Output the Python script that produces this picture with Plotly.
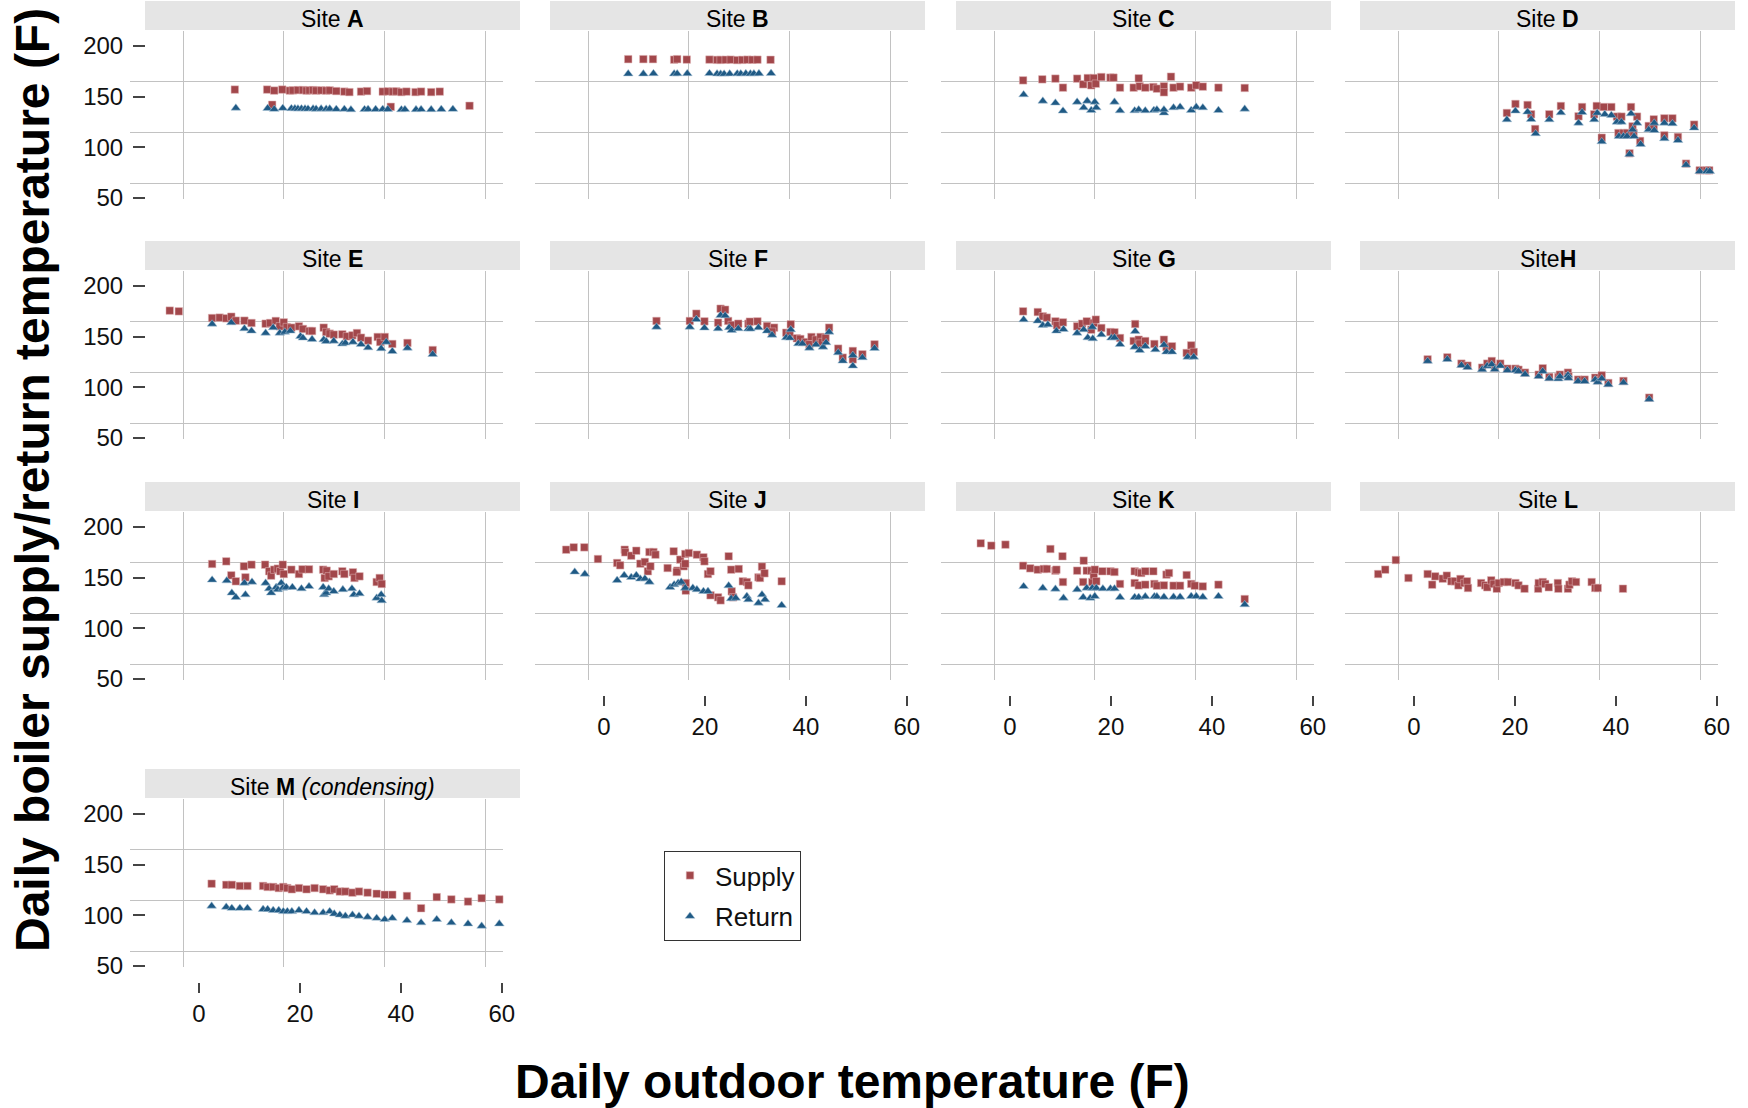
import plotly.graph_objects as go

# ---------------- data ----------------
site_letters = ["A", "B", "C", "D", "E", "F", "G", "H", "I", "J", "K", "L", "M"]
x_tick_vals = [0, 20, 40, 60]
x_tick_text = ["0", "20", "40", "60"]
y_tick_vals = [50, 100, 150, 200]
y_tick_text = ["50", "100", "150", "200"]
series_names = ["Supply", "Return"]

a_supply_x = [7.1, 13.5, 14.9, 16.5, 18.0, 18.6, 19.6, 20.6, 21.3, 21.9, 22.6, 23.2, 24.2, 25.2, 25.9, 27.2, 28.8, 29.8, 32.1, 33.3, 36.4, 37.4, 38.4, 39.1, 40.1, 41.1, 42.9, 44.0, 46.0, 47.7, 14.5, 38.0, 53.6]
a_supply_y = [157.0, 157.0, 156.0, 157.0, 156.0, 156.2, 156.5, 156.5, 156.0, 156.2, 156.5, 156.0, 156.2, 156.0, 156.2, 155.5, 155.0, 154.5, 155.0, 155.5, 155.0, 155.2, 155.0, 155.2, 154.5, 155.0, 154.5, 155.0, 154.5, 155.0, 142.0, 140.0, 141.0]
a_return_x = [7.3, 13.6, 14.9, 16.6, 18.3, 19.0, 19.6, 20.3, 21.0, 21.6, 22.6, 23.2, 24.2, 25.2, 25.9, 27.2, 28.8, 30.1, 32.8, 33.5, 35.0, 36.4, 37.4, 40.1, 40.8, 43.0, 44.0, 46.0, 48.0, 50.3]
a_return_y = [138.8, 138.5, 137.6, 138.6, 138.3, 138.2, 138.0, 138.1, 138.0, 137.9, 138.1, 137.8, 138.0, 137.8, 138.0, 137.6, 137.7, 137.2, 137.4, 137.6, 137.5, 137.6, 137.5, 137.2, 137.4, 137.3, 137.4, 137.3, 137.5, 137.6]

b_supply_x = [4.8, 7.8, 9.7, 13.9, 14.5, 16.4, 20.9, 22.4, 23.1, 24.1, 25.1, 26.4, 27.4, 28.4, 29.4, 30.4, 33.0]
b_supply_y = [187.0, 187.0, 187.0, 186.5, 187.0, 186.6, 186.6, 186.3, 186.3, 186.4, 186.5, 186.1, 186.3, 186.5, 186.4, 186.5, 186.4]
b_return_x = [4.8, 7.8, 9.8, 13.9, 14.5, 16.5, 20.9, 22.4, 23.1, 23.8, 24.9, 26.4, 27.1, 28.1, 29.0, 29.7, 30.7, 33.1]
b_return_y = [172.6, 172.5, 172.8, 172.6, 172.7, 172.8, 172.9, 172.6, 172.4, 172.4, 172.6, 172.7, 172.6, 172.8, 172.6, 172.7, 172.8, 173.0]

c_supply_x = [2.6, 6.4, 9.0, 10.5, 13.3, 14.5, 15.4, 16.1, 16.6, 17.0, 18.1, 19.9, 20.5, 21.8, 24.5, 25.5, 25.7, 26.8, 28.4, 29.1, 30.5, 30.5, 31.9, 32.4, 33.7, 35.9, 36.9, 38.2, 41.3, 46.5]
c_supply_y = [166.1, 167.1, 167.8, 158.9, 167.8, 162.2, 168.4, 161.2, 168.4, 162.8, 169.4, 168.8, 168.8, 158.9, 158.9, 168.1, 160.2, 158.9, 159.5, 157.9, 160.2, 154.3, 169.7, 158.9, 159.9, 158.9, 161.2, 159.9, 158.9, 158.6]
c_return_x = [2.7, 6.5, 9.0, 10.5, 13.3, 14.6, 15.3, 16.1, 16.8, 17.1, 20.7, 21.8, 24.7, 25.5, 26.8, 28.5, 29.1, 30.5, 30.5, 32.4, 33.7, 35.9, 36.9, 38.2, 41.3, 46.5]
c_return_y = [152.0, 145.7, 143.8, 135.9, 144.7, 139.1, 145.7, 136.5, 144.7, 139.1, 144.7, 136.2, 136.2, 137.2, 136.2, 136.5, 137.2, 133.9, 137.2, 139.1, 139.8, 136.5, 139.8, 139.1, 136.5, 137.8]

d_supply_x = [18.4, 20.1, 22.5, 23.2, 24.0, 26.8, 29.1, 33.3, 32.6, 35.7, 36.2, 37.2, 37.6, 39.1, 40.2, 41.1, 40.5, 41.5, 42.2, 42.7, 43.0, 43.3, 43.5, 44.2, 44.8, 46.5, 47.5, 47.5, 49.6, 49.6, 51.2, 52.3, 53.9, 55.5, 56.6, 58.0, 58.5]
d_supply_y = [133.9, 142.8, 141.8, 132.6, 118.1, 132.6, 140.8, 139.8, 130.6, 132.6, 140.8, 109.5, 139.8, 139.8, 130.3, 130.3, 114.1, 114.1, 114.1, 94.1, 139.8, 120.7, 114.1, 130.3, 106.3, 121.1, 127.6, 120.7, 128.6, 111.8, 128.6, 110.2, 83.9, 122.4, 77.3, 77.3, 77.3]
d_return_x = [18.4, 20.1, 22.5, 23.2, 24.1, 26.8, 29.1, 33.3, 32.6, 35.7, 36.3, 37.2, 37.8, 39.1, 40.2, 41.1, 40.6, 41.5, 42.2, 42.7, 43.0, 43.3, 43.6, 44.2, 44.9, 46.5, 47.6, 47.6, 49.6, 49.6, 51.2, 52.3, 53.9, 55.5, 56.6, 58.0, 58.6]
d_return_y = [127.3, 135.9, 134.9, 127.6, 113.5, 127.3, 134.2, 134.5, 124.0, 127.3, 133.9, 105.6, 132.6, 131.6, 125.0, 125.0, 110.9, 110.9, 110.9, 93.1, 133.2, 117.4, 110.9, 124.0, 103.0, 117.4, 124.0, 116.8, 124.0, 108.6, 123.4, 106.9, 82.6, 119.1, 76.3, 76.3, 76.3]

e_supply_x = [-5.8, -4.0, 2.6, 4.1, 5.4, 6.4, 7.3, 9.0, 10.4, 13.2, 14.1, 15.2, 16.0, 16.8, 17.4, 18.3, 19.8, 20.6, 21.9, 22.4, 24.7, 25.2, 25.9, 26.7, 28.4, 29.3, 30.4, 31.3, 32.1, 33.5, 35.4, 35.9, 36.8, 38.3, 41.3, 46.3]
e_supply_y = [175.7, 175.0, 168.4, 168.8, 168.1, 169.7, 165.8, 165.8, 163.5, 162.8, 163.5, 165.5, 160.2, 164.1, 159.5, 158.9, 160.2, 157.6, 155.6, 155.6, 158.9, 154.6, 153.0, 152.0, 152.3, 150.3, 151.3, 153.6, 149.0, 146.1, 149.7, 144.7, 149.7, 142.8, 143.8, 136.8]
e_return_x = [2.6, 6.4, 9.0, 10.4, 13.2, 14.7, 16.0, 17.0, 18.1, 20.1, 20.6, 22.4, 24.7, 25.2, 26.7, 28.4, 29.0, 30.5, 32.1, 33.5, 36.1, 37.1, 38.3, 41.3, 46.3]
e_return_y = [162.5, 163.8, 157.9, 155.6, 153.6, 158.9, 153.6, 154.6, 155.6, 150.3, 148.7, 147.4, 147.0, 145.4, 145.7, 142.8, 143.8, 144.7, 142.4, 139.1, 138.2, 144.7, 135.5, 138.8, 132.6]

f_supply_x = [10.4, 17.0, 18.3, 19.9, 22.6, 23.1, 24.0, 24.6, 25.3, 26.6, 28.6, 28.9, 30.4, 32.3, 33.7, 33.3, 36.1, 36.8, 37.0, 38.2, 38.9, 39.9, 41.1, 40.7, 42.0, 42.9, 43.2, 43.9, 44.6, 46.4, 47.3, 49.3, 49.3, 51.2, 53.6]
f_supply_y = [165.5, 165.5, 172.7, 165.1, 163.8, 177.6, 176.6, 165.5, 161.5, 162.8, 162.8, 164.8, 165.1, 160.5, 158.9, 154.9, 153.9, 153.6, 162.2, 148.4, 147.7, 144.7, 149.7, 142.4, 147.0, 149.7, 144.7, 148.7, 158.9, 138.2, 129.3, 135.9, 127.6, 132.6, 142.4]
f_return_x = [10.4, 17.0, 18.3, 19.9, 22.6, 23.1, 24.0, 24.8, 25.3, 26.6, 28.6, 29.0, 30.6, 32.3, 33.3, 36.1, 36.8, 37.0, 38.5, 39.3, 40.7, 42.0, 43.4, 44.0, 44.6, 46.4, 47.3, 49.3, 49.3, 51.2, 53.6]
f_return_y = [159.5, 159.5, 167.1, 158.6, 157.9, 171.1, 170.7, 158.9, 156.3, 157.9, 157.6, 157.6, 158.9, 155.6, 151.6, 149.0, 148.7, 156.9, 143.1, 143.1, 138.8, 142.1, 139.8, 144.1, 154.6, 134.2, 126.0, 121.1, 131.6, 129.3, 138.5]

g_supply_x = [2.6, 5.5, 6.5, 7.3, 9.0, 9.3, 10.5, 13.3, 14.3, 15.2, 16.1, 16.6, 17.0, 18.1, 19.9, 20.7, 21.8, 24.8, 24.5, 25.5, 25.7, 26.8, 28.6, 30.5, 31.0, 32.1, 35.0, 35.9, 36.4]
g_supply_y = [175.0, 174.3, 170.1, 168.8, 165.1, 161.2, 164.1, 160.2, 162.8, 165.1, 156.9, 163.5, 166.8, 158.6, 154.6, 154.3, 148.7, 162.5, 145.7, 147.0, 143.1, 145.7, 142.8, 147.0, 139.8, 140.5, 133.9, 141.4, 134.9]
g_return_x = [2.7, 5.5, 6.5, 7.5, 9.2, 10.6, 13.3, 14.6, 15.4, 16.4, 16.3, 18.1, 20.1, 20.7, 21.8, 24.8, 24.7, 25.7, 26.8, 28.8, 30.5, 31.0, 32.1, 35.2, 36.4]
g_return_y = [166.8, 165.5, 161.2, 161.8, 155.6, 157.2, 153.6, 156.9, 149.0, 148.0, 159.5, 152.0, 148.7, 149.0, 142.4, 155.3, 139.8, 136.5, 140.5, 137.2, 141.8, 134.9, 134.9, 129.9, 129.9]

h_supply_x = [2.7, 6.6, 9.4, 10.6, 13.5, 14.5, 15.4, 16.0, 17.1, 18.5, 20.1, 20.7, 22.0, 24.7, 25.5, 26.8, 28.6, 28.9, 30.5, 30.6, 32.5, 33.8, 35.9, 36.4, 37.2, 38.5, 41.5, 46.6]
h_supply_y = [127.6, 129.6, 123.4, 121.4, 119.4, 123.4, 126.0, 119.4, 123.4, 118.4, 118.4, 117.4, 114.5, 112.5, 118.8, 110.2, 110.2, 112.5, 114.5, 110.9, 107.6, 107.6, 109.5, 106.9, 111.8, 104.3, 106.3, 89.8]
h_return_x = [2.7, 6.6, 9.4, 10.6, 13.5, 14.5, 15.4, 16.0, 17.1, 18.5, 20.1, 20.7, 22.0, 24.7, 25.5, 26.8, 28.6, 28.9, 30.5, 30.6, 32.5, 33.8, 35.9, 36.4, 37.2, 38.5, 41.5, 46.6]
h_return_y = [125.8, 127.6, 121.6, 119.7, 117.5, 121.0, 122.6, 117.6, 121.2, 116.8, 116.8, 115.8, 112.8, 110.8, 115.8, 108.6, 108.4, 110.6, 112.0, 109.0, 105.9, 105.9, 107.6, 105.1, 108.6, 102.7, 104.6, 88.2]

i_supply_x = [2.6, 5.4, 6.4, 7.3, 8.9, 9.2, 10.4, 13.1, 13.9, 14.3, 14.9, 15.6, 16.1, 16.6, 16.8, 18.3, 19.8, 20.5, 21.8, 24.6, 24.9, 25.3, 25.7, 26.7, 28.4, 28.8, 30.5, 30.8, 31.8, 35.2, 35.8, 36.2]
i_supply_y = [163.5, 166.1, 152.3, 146.4, 161.2, 150.3, 162.8, 162.8, 156.3, 152.0, 157.9, 158.9, 156.3, 162.8, 153.6, 157.9, 153.6, 158.2, 158.2, 157.9, 149.7, 156.9, 151.3, 153.6, 156.3, 153.6, 155.3, 149.7, 151.3, 145.7, 149.7, 143.8]
i_return_x = [2.6, 5.5, 6.5, 7.3, 9.0, 9.2, 10.5, 13.2, 13.9, 14.3, 15.3, 15.6, 16.3, 16.6, 17.3, 18.5, 20.3, 21.8, 24.6, 24.8, 25.2, 25.7, 26.7, 28.5, 30.3, 30.7, 31.8, 35.2, 36.1, 36.2]
i_return_y = [147.7, 147.0, 134.9, 130.6, 144.7, 133.2, 145.7, 144.7, 139.1, 134.9, 140.5, 138.2, 144.7, 139.8, 140.5, 140.5, 139.1, 141.4, 140.5, 133.2, 134.9, 139.1, 136.5, 138.2, 139.1, 133.2, 134.2, 129.9, 133.2, 127.3]

j_supply_x = [-7.5, -6.0, -3.9, -1.2, 2.6, 3.2, 4.1, 4.2, 5.4, 6.4, 7.2, 8.1, 8.7, 9.0, 9.2, 9.8, 10.2, 12.6, 13.8, 14.5, 14.4, 15.1, 15.8, 16.1, 16.1, 16.8, 16.2, 16.2, 18.4, 19.7, 19.9, 20.6, 21.1, 21.1, 22.6, 23.1, 24.7, 25.2, 25.3, 25.6, 26.7, 27.5, 28.3, 28.6, 30.6, 30.9, 31.3, 31.8, 35.2]
j_supply_y = [177.6, 179.9, 179.9, 168.4, 164.5, 162.2, 177.6, 175.0, 171.7, 176.6, 163.8, 165.5, 156.3, 175.3, 161.2, 175.3, 172.7, 159.5, 176.0, 156.9, 155.6, 167.8, 161.2, 173.4, 163.8, 174.3, 144.7, 137.2, 172.7, 170.1, 166.1, 153.6, 156.3, 132.6, 130.6, 127.6, 171.1, 157.9, 136.5, 130.6, 158.6, 146.4, 145.7, 142.4, 150.3, 149.7, 160.9, 154.3, 146.4]
j_return_x = [-5.8, -3.8, 2.6, 4.0, 5.4, 6.4, 7.2, 8.1, 9.0, 13.1, 13.9, 14.7, 15.3, 16.1, 17.6, 18.4, 19.7, 20.6, 24.7, 25.2, 26.1, 28.3, 28.6, 30.6, 31.3, 31.9, 35.2]
j_return_y = [155.6, 153.6, 147.4, 152.3, 150.3, 152.3, 148.7, 149.0, 145.7, 140.5, 143.1, 144.7, 145.7, 139.8, 139.8, 138.2, 136.5, 136.5, 142.1, 129.3, 129.9, 131.6, 128.3, 125.0, 133.2, 128.3, 122.7]

k_supply_x = [-5.8, -3.7, -0.9, 2.6, 4.0, 5.5, 6.7, 7.3, 9.0, 9.2, 8.0, 10.4, 10.5, 13.3, 14.5, 14.6, 15.2, 16.1, 16.3, 16.6, 16.8, 17.1, 18.3, 19.9, 20.7, 21.8, 24.7, 24.7, 25.5, 25.5, 26.0, 26.8, 26.8, 28.4, 28.6, 29.1, 30.5, 31.0, 31.5, 32.4, 33.7, 35.0, 35.9, 36.6, 38.2, 41.3, 46.5]
k_supply_y = [183.9, 181.6, 182.6, 161.8, 159.2, 157.9, 158.6, 158.6, 156.9, 157.9, 178.3, 171.1, 145.7, 156.9, 145.7, 166.8, 156.9, 156.9, 145.7, 152.3, 157.9, 146.4, 156.3, 156.3, 155.6, 143.8, 156.3, 144.7, 142.4, 155.3, 154.6, 143.1, 156.3, 156.3, 143.8, 142.1, 142.4, 153.0, 154.6, 142.1, 142.1, 152.6, 143.8, 142.1, 141.4, 143.1, 128.9]
k_return_x = [2.7, 6.5, 9.0, 10.6, 13.3, 14.5, 15.2, 15.9, 16.3, 16.8, 17.1, 18.4, 19.9, 20.7, 21.8, 24.7, 25.5, 26.8, 28.6, 29.1, 30.5, 32.4, 33.7, 35.9, 36.9, 38.2, 41.3, 46.5]
k_return_y = [141.4, 139.8, 138.8, 129.9, 138.2, 130.6, 139.8, 129.9, 139.8, 131.6, 139.8, 139.1, 139.1, 139.1, 130.6, 130.6, 130.6, 131.3, 131.3, 131.3, 130.9, 130.9, 130.9, 131.6, 131.6, 130.9, 131.6, 123.4]

l_supply_x = [-7.1, -5.7, -3.6, -1.1, 2.7, 3.6, 4.2, 5.7, 6.5, 7.4, 8.1, 8.8, 9.2, 10.0, 10.5, 10.7, 13.3, 14.1, 14.5, 15.3, 15.8, 16.4, 16.8, 17.8, 18.6, 20.1, 20.7, 21.9, 24.6, 24.7, 25.5, 26.0, 26.7, 28.5, 28.6, 30.5, 30.8, 31.3, 32.1, 35.2, 35.9, 36.4, 41.4]
l_supply_y = [153.6, 157.9, 167.4, 149.7, 153.6, 143.1, 151.3, 149.0, 152.0, 146.4, 146.4, 142.4, 148.7, 144.7, 146.4, 139.8, 144.7, 142.4, 140.5, 147.4, 143.8, 139.1, 144.7, 145.7, 145.7, 144.7, 142.4, 139.1, 139.1, 144.7, 145.7, 143.8, 140.5, 144.7, 139.1, 139.1, 143.1, 146.4, 145.7, 145.7, 139.8, 139.8, 139.1]

m_supply_x = [2.5, 5.4, 6.5, 8.1, 9.6, 12.7, 13.6, 14.7, 15.8, 16.7, 17.5, 18.4, 19.8, 21.3, 22.9, 24.6, 25.9, 26.8, 27.9, 29.0, 30.4, 31.7, 33.4, 35.2, 36.8, 38.3, 41.2, 44.0, 47.1, 50.0, 53.3, 56.0, 59.5]
m_supply_y = [131.2, 130.1, 130.1, 129.0, 129.0, 129.0, 128.0, 128.0, 126.9, 128.0, 126.9, 125.7, 126.9, 125.7, 126.9, 125.7, 124.6, 125.7, 123.5, 123.5, 122.4, 123.5, 122.4, 121.3, 120.3, 120.3, 119.1, 107.0, 118.0, 115.7, 113.6, 116.9, 115.7]
m_return_x = [2.5, 5.4, 6.5, 8.1, 9.6, 12.7, 13.6, 14.7, 15.8, 16.7, 17.5, 18.4, 19.8, 21.3, 22.9, 24.6, 25.9, 26.8, 27.9, 29.0, 30.4, 31.7, 33.4, 35.2, 36.8, 38.3, 41.2, 44.0, 47.1, 50.0, 53.3, 56.0, 59.5]
m_return_y = [109.2, 108.1, 107.0, 107.0, 107.0, 105.9, 105.9, 104.9, 104.9, 103.8, 103.8, 103.8, 104.9, 103.8, 102.6, 102.6, 103.8, 101.5, 100.4, 99.3, 100.4, 99.3, 98.3, 97.2, 96.0, 97.2, 94.9, 92.7, 96.0, 92.7, 91.6, 89.4, 91.6]

# ---------------- layout helpers ----------------
W, H = 1748, 1108
col_left = [146, 551, 957, 1361]     # pixel left of each column's plot area
row_top = [46, 286, 527, 814]        # pixel top of each row's plot area
box_w, box_h = 373, 168
grid_dx, grid_dy = 16, 15            # offset of the gridline layer
x_range = [-10.5, 63.4]
y_range = [34.2, 200.0]

SUPPLY_COLOR = "#a2474b"
RETURN_COLOR = "#1f5a85"
GRID_COLOR = "#c2c2c2"
FONT = "Liberation Sans, Arial, sans-serif"

panels = [
    ("Site <b>A</b>", 0, 0, a_supply_x, a_supply_y, a_return_x, a_return_y),
    ("Site <b>B</b>", 0, 1, b_supply_x, b_supply_y, b_return_x, b_return_y),
    ("Site <b>C</b>", 0, 2, c_supply_x, c_supply_y, c_return_x, c_return_y),
    ("Site <b>D</b>", 0, 3, d_supply_x, d_supply_y, d_return_x, d_return_y),
    ("Site <b>E</b>", 1, 0, e_supply_x, e_supply_y, e_return_x, e_return_y),
    ("Site <b>F</b>", 1, 1, f_supply_x, f_supply_y, f_return_x, f_return_y),
    ("Site <b>G</b>", 1, 2, g_supply_x, g_supply_y, g_return_x, g_return_y),
    ("Site<b>H</b>", 1, 3, h_supply_x, h_supply_y, h_return_x, h_return_y),
    ("Site <b>I</b>", 2, 0, i_supply_x, i_supply_y, i_return_x, i_return_y),
    ("Site <b>J</b>", 2, 1, j_supply_x, j_supply_y, j_return_x, j_return_y),
    ("Site <b>K</b>", 2, 2, k_supply_x, k_supply_y, k_return_x, k_return_y),
    ("Site <b>L</b>", 2, 3, l_supply_x, l_supply_y, None, None),
    ("Site <b>M</b> <i>(condensing)</i>", 3, 0, m_supply_x, m_supply_y, m_return_x, m_return_y),
]
x_label_panels = {"J", "K", "L", "M"}


def px_x(p):
    return p / W


def px_y(p):
    return 1 - p / H


def ax_name(kind, i):
    return f"{kind}axis" if i == 1 else f"{kind}axis{i}"


def ax_ref(kind, i):
    return kind if i == 1 else f"{kind}{i}"


fig = go.Figure()
layout_axes = {}
shapes = []
annotations = []
n = len(panels)
shown = {"Supply": False, "Return": False}

# gridline layer first (indices 1..n) so that it sits underneath the data layer
for k, (title, r, c, sx, sy, rx, ry) in enumerate(panels):
    gi = k + 1
    L, T = col_left[c], row_top[r]
    layout_axes[ax_name("x", gi)] = dict(
        domain=[px_x(L - grid_dx), px_x(L - grid_dx + box_w)], range=x_range,
        anchor=ax_ref("y", gi), showgrid=True, gridcolor=GRID_COLOR, gridwidth=1.4,
        tickvals=x_tick_vals, showticklabels=False, ticks="", zeroline=False,
        showline=False, fixedrange=True, automargin=False)
    layout_axes[ax_name("y", gi)] = dict(
        domain=[px_y(T - grid_dy + box_h), px_y(T - grid_dy)], range=[y_range[0], y_range[1] + 0.3],
        anchor=ax_ref("x", gi), showgrid=True, gridcolor=GRID_COLOR, gridwidth=1.4,
        tickvals=y_tick_vals, showticklabels=False, ticks="", zeroline=False,
        showline=False, fixedrange=True, automargin=False)
    fig.add_trace(go.Scatter(x=[], y=[], xaxis=ax_ref("x", gi), yaxis=ax_ref("y", gi),
                             showlegend=False, hoverinfo="skip"))

for k, (title, r, c, sx, sy, rx, ry) in enumerate(panels):
    di = n + k + 1
    L, T = col_left[c], row_top[r]
    letter = site_letters[k]
    show_x = letter in x_label_panels
    show_y = c == 0
    layout_axes[ax_name("x", di)] = dict(
        domain=[px_x(L), px_x(L + box_w)], range=x_range, anchor=ax_ref("y", di),
        showgrid=False, zeroline=False, showline=False,
        tickmode="array", tickvals=x_tick_vals, ticktext=x_tick_text,
        ticks="outside" if show_x else "", ticklen=10, tickwidth=1.5, tickcolor="#444",
        showticklabels=show_x, ticklabelstandoff=0, automargin=False,
        tickfont=dict(family=FONT, size=24, color="#111"), fixedrange=True)
    layout_axes[ax_name("y", di)] = dict(
        domain=[px_y(T + box_h), px_y(T)], range=y_range, anchor=ax_ref("x", di),
        showgrid=False, zeroline=False, showline=False,
        tickmode="array", tickvals=y_tick_vals, ticktext=y_tick_text,
        ticks="outside" if show_y else "", ticklen=12, tickwidth=1.5, tickcolor="#444",
        showticklabels=show_y, ticklabelstandoff=5, automargin=False,
        tickfont=dict(family=FONT, size=24, color="#111"), fixedrange=True)

    if sx is not None:
        fig.add_trace(go.Scatter(
            x=sx, y=sy, mode="markers", name=series_names[0], legendgroup="supply",
            showlegend=not shown["Supply"], xaxis=ax_ref("x", di), yaxis=ax_ref("y", di),
            marker=dict(symbol="square", size=7.5, color=SUPPLY_COLOR,
                        line=dict(width=0.7, color="rgba(225,180,182,0.75)"))))
        shown["Supply"] = True
    if rx is not None:
        fig.add_trace(go.Scatter(
            x=rx, y=ry, mode="markers", name=series_names[1], legendgroup="return",
            showlegend=not shown["Return"], xaxis=ax_ref("x", di), yaxis=ax_ref("y", di),
            marker=dict(symbol="triangle-up", size=8.5, color=RETURN_COLOR,
                        line=dict(width=0.7, color="rgba(170,195,215,0.75)"))))
        shown["Return"] = True

    # strip header
    shapes.append(dict(type="rect", xref="paper", yref="paper",
                       x0=px_x(L - 1), x1=px_x(L + box_w + 1),
                       y0=px_y(T - 16), y1=px_y(T - 45),
                       fillcolor="#e5e5e5", line=dict(width=0), layer="below"))
    annotations.append(dict(text=title, xref="paper", yref="paper",
                            x=px_x(L + box_w / 2), y=px_y(T - 27),
                            xanchor="center", yanchor="middle", showarrow=False,
                            font=dict(family=FONT, size=23, color="#000")))

# axis titles
annotations.append(dict(text="<b>Daily outdoor temperature (F)</b>", xref="paper", yref="paper",
                        x=px_x(852), y=px_y(1081), xanchor="center", yanchor="middle",
                        showarrow=False, font=dict(family=FONT, size=48, color="#000")))
annotations.append(dict(text="<b>Daily boiler supply/return temperature (F)</b>", xref="paper",
                        yref="paper", x=px_x(33), y=px_y(480), xanchor="center",
                        yanchor="middle", textangle=-90, showarrow=False,
                        font=dict(family=FONT, size=48, color="#000")))

fig.update_layout(
    width=W, height=H, margin=dict(l=0, r=0, t=0, b=0, pad=0, autoexpand=False),
    paper_bgcolor="white", plot_bgcolor="rgba(0,0,0,0)",
    font=dict(family=FONT, color="#000"),
    shapes=shapes, annotations=annotations,
    legend=dict(x=px_x(664), y=px_y(851), xanchor="left", yanchor="top",
                bgcolor="white", bordercolor="#333", borderwidth=1,
                font=dict(family=FONT, size=26, color="#111"),
                traceorder="grouped", tracegroupgap=4, itemwidth=40,
                itemsizing="trace"),
    **layout_axes,
)

fig.write_html("out.html")
